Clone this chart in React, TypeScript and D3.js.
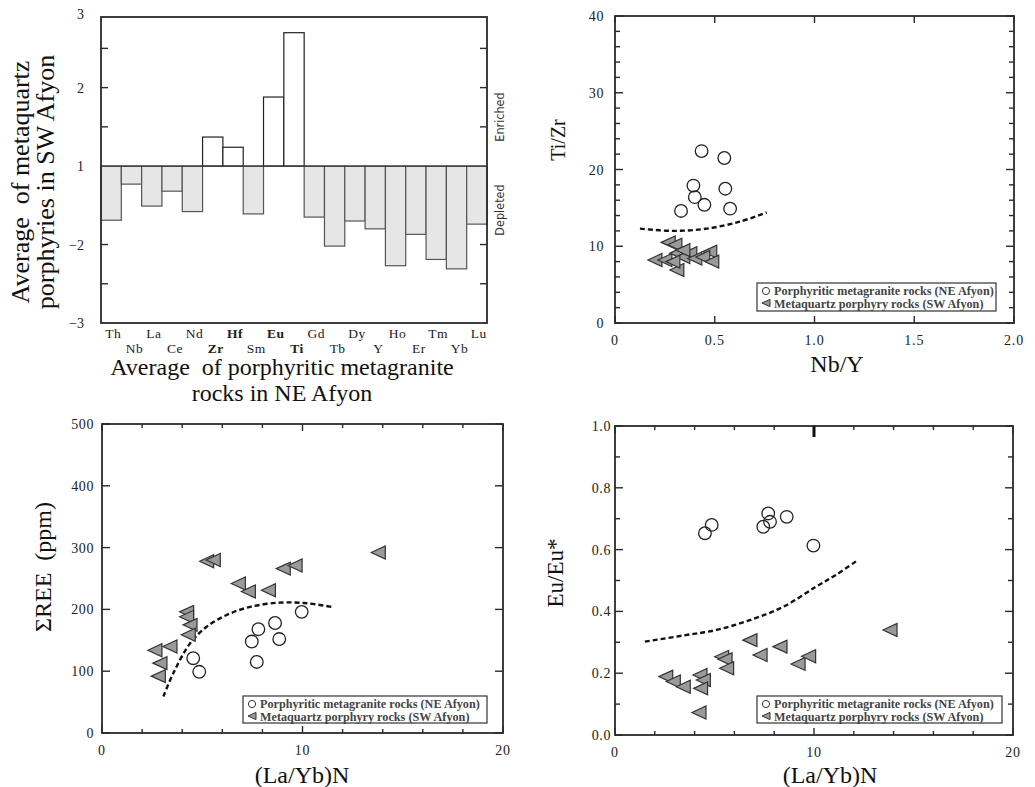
import React, { useEffect, useRef } from "react";
import * as d3 from "d3";

// ---- panel a: ratio bars (SW / NE averages) ----
const elements = ["Th", "Nb", "La", "Ce", "Nd", "Zr", "Hf", "Sm", "Eu", "Ti", "Gd", "Tb", "Dy", "Y", "Ho", "Er", "Tm", "Yb", "Lu"];
const boldElements = ["Zr", "Hf", "Eu", "Ti"];
const ratioValues = [-0.69, -0.23, -0.51, -0.32, -0.58, 0.37, 0.24, -0.61, 0.88, 1.7, -0.65, -1.02, -0.7, -0.8, -1.27, -0.87, -1.19, -1.31, -0.74];
const ratioTickPos = [-2, -1, 0, 1, 1.9];
const ratioTickLabels = ["\u22123", "\u22122", "1", "2", "3"];
const ratioMinorTicks = [-1.5, -1, -0.5, 0.5, 1, 1.5];

// ---- panel b: Ti/Zr vs Nb/Y ----
const nbyCircles = [[0.434, 22.4], [0.548, 21.5], [0.393, 17.9], [0.553, 17.5], [0.4, 16.4], [0.448, 15.4], [0.331, 14.6], [0.577, 14.9]];
const nbyTriangles = [[0.267, 10.5], [0.3, 10.2], [0.2, 8.2], [0.25, 8.2], [0.31, 9.1], [0.34, 8.6], [0.375, 9.1], [0.4, 8.4], [0.475, 9.3], [0.44, 8.6], [0.485, 8.0], [0.31, 6.9], [0.29, 8.0], [0.34, 9.5]];
const nbyCurve = [[0.125, 12.3], [0.29, 12.0], [0.46, 12.3], [0.625, 13.2], [0.76, 14.4]];

// ---- panel c: REE vs (La/Yb)N ----
const reeCircles = [[4.55, 121], [4.85, 99], [7.47, 148], [7.8, 168], [7.72, 115], [8.63, 178], [8.84, 152], [9.96, 196]];
const reeTriangles = [[5.22, 278], [5.55, 280], [9.04, 266], [9.63, 271], [6.8, 242], [7.3, 229], [8.3, 231], [4.22, 196], [4.22, 188], [4.39, 175], [4.3, 159], [2.64, 134], [3.39, 140], [2.89, 113], [2.81, 92], [13.78, 292]];
const reeCurve = [[3.06, 59], [3.56, 97], [4.39, 145], [5.22, 172], [6.22, 191], [7.38, 204], [8.88, 211], [10.2, 210], [11.46, 204]];

// ---- panel d: Eu/Eu* vs (La/Yb)N ----
const euCircles = [[4.52, 0.653], [4.86, 0.68], [7.45, 0.674], [7.7, 0.717], [7.79, 0.69], [8.63, 0.706], [9.97, 0.613]];
const euTriangles = [[2.55, 0.189], [2.93, 0.173], [3.43, 0.156], [4.27, 0.194], [4.44, 0.178], [4.3, 0.151], [4.22, 0.073], [5.36, 0.253], [5.53, 0.245], [5.61, 0.216], [6.78, 0.307], [7.29, 0.259], [8.29, 0.286], [9.2, 0.23], [9.73, 0.255], [13.82, 0.34]];
const euCurve = [[1.5, 0.302], [3.43, 0.322], [5.1, 0.34], [6.78, 0.372], [8.46, 0.415], [10.1, 0.48], [11.1, 0.518], [12.2, 0.566]];

const legendLabels = ["Porphyritic metagranite rocks (NE Afyon)", "Metaquartz porphyry rocks (SW Afyon)"];

const serif = "'Liberation Serif', 'Times New Roman', serif";
const ink = "#2a2a2a";

const triPath = (w: number, h: number) => `M${-w},0L${w},${-h}L${w},${h}Z`;

function drawFrame(g: any, x0: number, y0: number, x1: number, y1: number) {
  g.append("rect").attr("x", x0).attr("y", y0).attr("width", x1 - x0).attr("height", y1 - y0)
    .attr("fill", "none").attr("stroke", ink).attr("stroke-width", 1.8);
}

function drawScatter(svg: any, cfg: any) {
  const { box, xDomain, yDomain } = cfg;
  const x = d3.scaleLinear().domain(xDomain).range([box[0], box[2]]);
  const y = d3.scaleLinear().domain(yDomain).range([box[3], box[1]]);
  const g = svg.append("g");

  // ticks on four sides, pointing inward
  const tick = (vals: number[], len: number) => {
    vals.forEach((v) => {
      g.append("line").attr("x1", x(v)).attr("x2", x(v)).attr("y1", box[3]).attr("y2", box[3] - len).attr("stroke", ink).attr("stroke-width", 1.4);
      g.append("line").attr("x1", x(v)).attr("x2", x(v)).attr("y1", box[1]).attr("y2", box[1] + len).attr("stroke", ink).attr("stroke-width", 1.4);
    });
  };
  const ytick = (vals: number[], len: number) => {
    vals.forEach((v) => {
      g.append("line").attr("y1", y(v)).attr("y2", y(v)).attr("x1", box[0]).attr("x2", box[0] + len).attr("stroke", ink).attr("stroke-width", 1.4);
      g.append("line").attr("y1", y(v)).attr("y2", y(v)).attr("x1", box[2]).attr("x2", box[2] - len).attr("stroke", ink).attr("stroke-width", 1.4);
    });
  };
  tick(cfg.xMajor, 7);
  if (cfg.xMinor) tick(cfg.xMinor, 4);
  ytick(cfg.yMajor, 8);
  if (cfg.yMinor) ytick(cfg.yMinor, 5);
  drawFrame(g, box[0], box[1], box[2], box[3]);

  g.selectAll(".xl").data(cfg.xMajor).join("text")
    .attr("x", (d: number) => x(d)).attr("y", box[3] + 22)
    .attr("text-anchor", "middle").attr("font-family", serif).attr("font-size", 14).attr("letter-spacing", 0.8).attr("fill", "#222")
    .text((d: number) => cfg.xFmt(d));
  g.selectAll(".yl").data(cfg.yMajor).join("text")
    .attr("x", cfg.yLabelX).attr("y", (d: number) => y(d) + 5)
    .attr("text-anchor", "end").attr("font-family", serif).attr("font-size", 14).attr("letter-spacing", 0.6).attr("fill", "#222")
    .text((d: number) => cfg.yFmt(d));

  // titles
  g.append("text").attr("x", cfg.xTitle[0]).attr("y", cfg.xTitle[1]).attr("text-anchor", "middle")
    .attr("font-family", serif).attr("font-size", 24).attr("fill", "#111").text(cfg.xTitle[2]);
  g.append("text").attr("transform", `translate(${cfg.yTitle[0]},${cfg.yTitle[1]}) rotate(-90)`).attr("text-anchor", "middle")
    .attr("font-family", serif).attr("font-size", cfg.yTitle[3]).attr("fill", "#111").attr("xml:space", "preserve").text(cfg.yTitle[2]);

  // dashed boundary
  const line = d3.line<number[]>().x((d) => x(d[0])).y((d) => y(d[1])).curve(d3.curveCatmullRom.alpha(0.5));
  g.append("path").attr("d", line(cfg.curve)).attr("fill", "none").attr("stroke", "#111")
    .attr("stroke-width", 2.4).attr("stroke-dasharray", "5,3");

  g.selectAll(".tri").data(cfg.triangles).join("path")
    .attr("transform", (d: number[]) => `translate(${x(d[0])},${y(d[1])})`)
    .attr("d", triPath(7, 6.5)).attr("fill", "#9a9a9a").attr("stroke", "#333").attr("stroke-width", 1.2);
  g.selectAll(".cir").data(cfg.circles).join("circle")
    .attr("cx", (d: number[]) => x(d[0])).attr("cy", (d: number[]) => y(d[1])).attr("r", 6.3)
    .attr("fill", "none").attr("stroke", "#222").attr("stroke-width", 1.3);

  if (cfg.extraTick !== undefined) {
    g.append("line").attr("x1", x(cfg.extraTick)).attr("x2", x(cfg.extraTick)).attr("y1", box[1]).attr("y2", box[1] + 11)
      .attr("stroke", "#111").attr("stroke-width", 3);
  }

  // legend
  const lb = cfg.legend;
  const lg = g.append("g");
  lg.append("rect").attr("x", lb[0]).attr("y", lb[1]).attr("width", lb[2] - lb[0]).attr("height", lb[3] - lb[1])
    .attr("fill", "white").attr("stroke", "#333").attr("stroke-width", 1.2);
  lg.append("circle").attr("cx", lb[0] + 9).attr("cy", lb[1] + 8).attr("r", 3.6).attr("fill", "none").attr("stroke", "#333").attr("stroke-width", 1);
  lg.append("path").attr("transform", `translate(${lb[0] + 9},${lb[1] + 20})`).attr("d", triPath(4, 3.6))
    .attr("fill", "#9a9a9a").attr("stroke", "#333").attr("stroke-width", 1);
  legendLabels.forEach((t, i) => {
    lg.append("text").attr("x", lb[0] + 17).attr("y", lb[1] + 12 + i * 12.5).attr("font-family", serif)
      .attr("font-size", 12.2).attr("font-weight", "bold").attr("fill", "#444").text(t);
  });
}

function drawBars(svg: any) {
  const box = [101, 17, 487, 323];
  const x = d3.scaleBand().domain(elements).range([box[0], box[2]]).padding(0);
  const y = d3.scaleLinear().domain([-2, 1.9]).range([box[3], box[1]]);
  const g = svg.append("g");

  ratioMinorTicks.forEach((v) => {
    g.append("line").attr("x1", box[0]).attr("x2", box[0] + 7).attr("y1", y(v)).attr("y2", y(v)).attr("stroke", ink).attr("stroke-width", 1.4);
    g.append("line").attr("x1", box[2]).attr("x2", box[2] - 7).attr("y1", y(v)).attr("y2", y(v)).attr("stroke", ink).attr("stroke-width", 1.4);
  });

  g.selectAll(".bar").data(ratioValues).join("rect")
    .attr("x", (d: number, i: number) => x(elements[i]) as number)
    .attr("width", x.bandwidth())
    .attr("y", (d: number) => Math.min(y(d), y(0)))
    .attr("height", (d: number) => Math.abs(y(d) - y(0)))
    .attr("fill", (d: number) => (d > 0 ? "white" : "#e6e6e6"))
    .attr("stroke", (d: number) => (d > 0 ? "#222" : "#555"))
    .attr("stroke-width", 1.2);

  g.append("line").attr("x1", box[0]).attr("x2", box[2]).attr("y1", y(0)).attr("y2", y(0)).attr("stroke", "#333").attr("stroke-width", 1.3);
  drawFrame(g, box[0], box[1], box[2], box[3]);

  ratioTickPos.forEach((v, i) => {
    g.append("text").attr("x", 84).attr("y", y(v) + (i === 4 ? 2 : 5)).attr("text-anchor", "end")
      .attr("font-family", serif).attr("font-size", 14).attr("fill", "#222").text(ratioTickLabels[i]);
  });

  elements.forEach((el, i) => {
    g.append("text").attr("x", (x(el) as number) + x.bandwidth() / 2 + (i % 2 === 0 ? 2 : 3))
      .attr("y", i % 2 === 0 ? 338 : 353).attr("text-anchor", "middle")
      .attr("font-family", serif).attr("font-size", 13.5).attr("letter-spacing", 0.5).attr("fill", "#222")
      .attr("font-weight", boldElements.includes(el) ? "bold" : "normal").text(el);
  });

  g.append("text").attr("x", 282).attr("y", 375).attr("text-anchor", "middle").attr("font-family", serif)
    .attr("font-size", 24).attr("fill", "#111").attr("xml:space", "preserve").text("Average  of porphyritic metagranite");
  g.append("text").attr("x", 282).attr("y", 401).attr("text-anchor", "middle").attr("font-family", serif)
    .attr("font-size", 24).attr("fill", "#111").text("rocks in NE Afyon");

  g.append("text").attr("transform", "translate(29,182) rotate(-90)").attr("text-anchor", "middle").attr("font-family", serif)
    .attr("font-size", 26).attr("fill", "#111").attr("xml:space", "preserve").text("Average  of metaquartz");
  g.append("text").attr("transform", "translate(54,182) rotate(-90)").attr("text-anchor", "middle").attr("font-family", serif)
    .attr("font-size", 26).attr("fill", "#111").text("porphyries in SW Afyon");

  const narrow = "'Liberation Sans Narrow', 'DejaVu Sans Condensed', sans-serif";
  g.append("text").attr("transform", "translate(504,117) rotate(-90)").attr("text-anchor", "middle")
    .attr("font-family", narrow).attr("font-size", 12.5).attr("fill", "#333").text("Enriched");
  g.append("text").attr("transform", "translate(504,210) rotate(-90)").attr("text-anchor", "middle")
    .attr("font-family", narrow).attr("font-size", 12.5).attr("fill", "#333").text("Depleted");
}

export default function App() {
  const ref = useRef<SVGSVGElement>(null);

  useEffect(() => {
    const svg = d3.select(ref.current);
    svg.selectAll("*").remove();
    svg.append("rect").attr("width", 1035).attr("height", 787).attr("fill", "white");

    drawBars(svg);

    drawScatter(svg, {
      box: [615, 16, 1014, 323], xDomain: [0, 2], yDomain: [0, 40],
      xMajor: [0, 0.5, 1, 1.5, 2], yMajor: [0, 10, 20, 30, 40],
      yMinor: d3.range(2, 40, 2).filter((v) => v % 10 !== 0),
      xFmt: (d: number) => (d === 0 ? "0" : d3.format(".1f")(d)), yFmt: (d: number) => String(d), yLabelX: 604,
      xTitle: [837, 372, "Nb/Y"], yTitle: [565, 140, "Ti/Zr", 20],
      circles: nbyCircles, triangles: nbyTriangles, curve: nbyCurve,
      legend: [757, 283, 996, 311],
    });

    drawScatter(svg, {
      box: [102, 424, 503, 733], xDomain: [0, 20], yDomain: [0, 500],
      xMajor: [0, 10, 20], xMinor: [2, 4, 6, 8, 12, 14, 16, 18], yMajor: [0, 100, 200, 300, 400, 500],
      xFmt: (d: number) => String(d), yFmt: (d: number) => String(d), yLabelX: 94,
      xTitle: [302, 783, "(La/Yb)N"], yTitle: [51, 567, "\u03A3REE  (ppm)", 24],
      circles: reeCircles, triangles: reeTriangles, curve: reeCurve,
      legend: [243, 696, 487, 723],
    });

    drawScatter(svg, {
      box: [615, 426, 1013, 735], xDomain: [0, 20], yDomain: [0, 1],
      xMajor: [0, 10, 20], xMinor: [2, 4, 6, 8, 12, 14, 16, 18], yMajor: [0, 0.2, 0.4, 0.6, 0.8, 1.0],
      yMinor: [0.1, 0.3, 0.5, 0.7, 0.9],
      xFmt: (d: number) => String(d), yFmt: (d: number) => d3.format(".1f")(d), yLabelX: 611,
      xTitle: [830, 783, "(La/Yb)N"], yTitle: [563, 573, "Eu/Eu*", 23],
      circles: euCircles, triangles: euTriangles, curve: euCurve,
      legend: [757, 696, 1002, 723], extraTick: 10,
    });
  }, []);

  return (
    <svg ref={ref} width={1035} height={787} style={{ position: "absolute", left: 0, top: 0, display: "block" }} />
  );
}
